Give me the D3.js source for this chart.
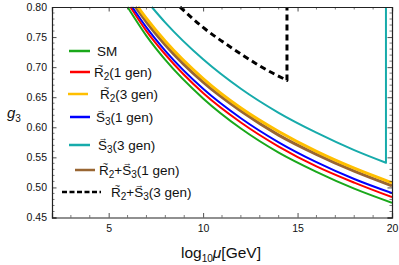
<!DOCTYPE html>
<html>
<head>
<meta charset="utf-8">
<script src="https://cdn.jsdelivr.net/npm/d3@7"></script>
<style>
  body { margin: 0; background: #fff; }
  svg { display: block; font-family: "Liberation Sans", Arial, sans-serif; }
</style>
</head>
<body>
<div id="chart"></div>
<script>
// values (log10 mu, g3)
var smT   = [6.00, 7, 8, 10, 12, 14, 16, 18, 20];
var smG   = [0.800, 0.752, 0.712, 0.648, 0.598, 0.558, 0.526, 0.498, 0.4745];
var r1T   = [6.15, 7, 8, 10, 12, 14, 16, 18, 20];
var r1G   = [0.800, 0.760, 0.721, 0.657, 0.608, 0.568, 0.535, 0.508, 0.4838];
var r3T   = [6.55, 7, 8, 10, 12, 14, 16, 18, 20];
var r3G   = [0.800, 0.781, 0.743, 0.681, 0.632, 0.593, 0.560, 0.532, 0.5078];
var s1T   = [6.25, 7, 8, 10, 12, 14, 16, 18, 20];
var s1G   = [0.800, 0.766, 0.727, 0.664, 0.615, 0.575, 0.542, 0.514, 0.4905];
var s3T   = [7.28, 8, 10, 12, 14, 16, 18, 19.68];
var s3G   = [0.800, 0.774, 0.713, 0.664, 0.624, 0.591, 0.562, 0.541];
var rs1T  = [6.42, 7, 8, 10, 12, 14, 16, 18, 20];
var rs1G  = [0.800, 0.775, 0.737, 0.675, 0.627, 0.587, 0.555, 0.527, 0.5027];
var rs3T  = [8.78, 10, 11, 12, 13, 14.44];
var rs3G  = [0.800, 0.766, 0.743, 0.722, 0.702, 0.678];
// curves that stop with a vertical wall up to the top of the frame
var s3Wall = 0.80;
var rs3Wall = 0.80;

var xTicks = [5, 10, 15, 20];
var yTicks = [0.45, 0.50, 0.55, 0.60, 0.65, 0.70, 0.75, 0.80];

var series = [
  { name: "SM",  t: smT,  g: smG,  color: "#1aa81a", w: 2 },
  { name: "R2_1", t: r1T,  g: r1G,  color: "#ff0000", w: 2 },
  { name: "R2_3", t: r3T,  g: r3G,  color: "#ffbf00", w: 3 },
  { name: "S3_1", t: s1T,  g: s1G,  color: "#0000ff", w: 2 },
  { name: "S3_3", t: s3T,  g: s3G,  color: "#17abab", w: 2, wall: s3Wall },
  { name: "RS_1", t: rs1T, g: rs1G, color: "#996633", w: 3 },
  { name: "RS_3", t: rs3T, g: rs3G, color: "#000000", w: 3, wall: rs3Wall, dash: "6,4" }
];
// drawing order: back to front as in the picture
var drawOrder = ["SM", "R2_1", "S3_1", "RS_1", "R2_3", "S3_3", "RS_3"];

var W = 399, H = 265;
var margin = { top: 7, right: 7, bottom: 47.5, left: 52 },
    width = W - margin.left - margin.right,
    height = H - margin.top - margin.bottom;

var svg = d3.select('#chart').append('svg')
    .attr('width', W)
    .attr('height', H);

var g = svg.append('g')
    .attr('transform', 'translate(' + margin.left + ',' + margin.top + ')');

var xscale = d3.scaleLinear().domain([2, 20]).range([0, width]);
var yscale = d3.scaleLinear().domain([0.45, 0.80]).range([height, 0]);

svg.append('defs').append('clipPath').attr('id', 'plotclip')
  .append('rect').attr('x', 0).attr('y', -1).attr('width', width).attr('height', height + 1);

// curves
var line = d3.line()
    .x(function(d) { return xscale(d[0]); })
    .y(function(d) { return yscale(d[1]); })
    .curve(d3.curveMonotoneX);

var curves = g.append('g').attr('clip-path', 'url(#plotclip)');
drawOrder.forEach(function(key) {
  var s = series.find(function(d) { return d.name === key; });
  var pts = s.t.map(function(t, i) { return [t, s.g[i]]; });
  var p = line(pts);
  if (s.wall !== undefined) {
    var last = pts[pts.length - 1];
    p += 'L' + xscale(last[0]) + ',' + yscale(s.wall);
  }
  curves.append('path')
    .attr('d', p)
    .attr('fill', 'none')
    .attr('stroke', s.color)
    .attr('stroke-width', s.w)
    .attr('stroke-dasharray', s.dash || null)
    .attr('stroke-linejoin', 'round');
});

// frame with inward ticks on all four sides
var frameColor = '#222';
var axisBottom = d3.axisBottom(xscale).tickValues(xTicks).tickSize(-4.5).tickPadding(7).tickFormat(d3.format('d'));
var axisLeft = d3.axisLeft(yscale).tickValues(yTicks).tickSize(-4.5).tickPadding(5).tickFormat(d3.format('.2f'));

var minorX = d3.range(3, 20, 1).filter(function(v) { return v % 5 !== 0; });
var minorY = d3.range(46, 80, 1).map(function(v) { return v / 100; }).filter(function(v) { return Math.round(v * 100) % 5 !== 0; });

function styleAxis(sel) {
  sel.selectAll('path').attr('stroke', frameColor).attr('stroke-width', 1.2);
  sel.selectAll('line').attr('stroke', frameColor).attr('stroke-width', 0.8);
  sel.selectAll('text').attr('fill', '#111').attr('font-size', '10.5px')
     .attr('font-family', '"Liberation Sans", Arial, sans-serif');
}

var gx = g.append('g').attr('transform', 'translate(0,' + height + ')').call(axisBottom);
styleAxis(gx);
var gy = g.append('g').call(axisLeft);
styleAxis(gy);
var gxTop = g.append('g').call(d3.axisTop(xscale).tickValues(xTicks).tickSize(-4.5).tickFormat(''));
styleAxis(gxTop);
var gyRight = g.append('g').attr('transform', 'translate(' + width + ',0)')
  .call(d3.axisRight(yscale).tickValues(yTicks).tickSize(-4.5).tickFormat(''));
styleAxis(gyRight);

// minor ticks
var minor = g.append('g').attr('stroke', frameColor).attr('stroke-width', 0.6);
minorX.forEach(function(v) {
  minor.append('line').attr('x1', xscale(v)).attr('x2', xscale(v)).attr('y1', height).attr('y2', height - 2.5);
  minor.append('line').attr('x1', xscale(v)).attr('x2', xscale(v)).attr('y1', 0).attr('y2', 2.5);
});
minorY.forEach(function(v) {
  minor.append('line').attr('x1', 0).attr('x2', 2.5).attr('y1', yscale(v)).attr('y2', yscale(v));
  minor.append('line').attr('x1', width).attr('x2', width - 2.5).attr('y1', yscale(v)).attr('y2', yscale(v));
});

// axis labels
var xl = svg.append('text')
  .attr('x', 221).attr('y', 258)
  .attr('text-anchor', 'middle')
  .attr('font-size', '15.5px')
  .attr('fill', '#111');
xl.append('tspan').text('log');
xl.append('tspan').attr('font-size', '10px').attr('dy', 4).text('10');
xl.append('tspan').attr('font-style', 'italic').attr('dy', -4).text('\u03bc');
xl.append('tspan').text('[GeV]');

var yl = svg.append('text')
  .attr('x', 7).attr('y', 118)
  .attr('font-size', '15px')
  .attr('fill', '#111');
yl.append('tspan').attr('font-style', 'italic').text('g');
yl.append('tspan').attr('font-size', '10px').attr('dy', 4).text('3');

// legend
var legendRows = [
  { key: "SM",   parts: [["SM", 0]],                                   y: 51,  x1: 69, x2: 90, tx: 97 },
  { key: "R2_1", parts: [["R", 0, "~"], ["2", 1], ["(1 gen)", 0]],     y: 72,  x1: 70, x2: 90, tx: 94 },
  { key: "R2_3", parts: [["R", 0, "~"], ["2", 1], ["(3 gen)", 0]],     y: 94,  x1: 68, x2: 88, tx: 100 },
  { key: "S3_1", parts: [["S", 0, "\u2192"], ["3", 1], ["(1 gen)", 0]], y: 117, x1: 70, x2: 90, tx: 96 },
  { key: "S3_3", parts: [["S", 0, "\u2192"], ["3", 1], ["(3 gen)", 0]], y: 145, x1: 69, x2: 90, tx: 98 },
  { key: "RS_1", parts: [["R", 0, "~"], ["2", 1], ["+", 0], ["S", 0, "\u2192"], ["3", 1], ["(1 gen)", 0]], y: 170, x1: 75, x2: 95, tx: 99 },
  { key: "RS_3", parts: [["R", 0, "~"], ["2", 1], ["+", 0], ["S", 0, "\u2192"], ["3", 1], ["(3 gen)", 0]], y: 192, x1: 62, x2: 101, tx: 111 }
];

var legend = svg.append('g');
legendRows.forEach(function(row) {
  var s = series.find(function(d) { return d.name === row.key; });
  legend.append('line')
    .attr('x1', row.x1).attr('x2', row.x2)
    .attr('y1', row.y).attr('y2', row.y)
    .attr('stroke', s.color)
    .attr('stroke-width', 2.5)
    .attr('stroke-dasharray', s.dash ? '5,2.5' : null);

  var t = legend.append('text')
    .attr('x', row.tx).attr('y', row.y + 5)
    .attr('font-size', '13.5px')
    .attr('fill', '#111');
  var sub = false;
  var accents = [];
  var idx = 0;
  row.parts.forEach(function(p) {
    var ts = t.append('tspan').text(p[0]);
    if (p[1] && !sub) { ts.attr('font-size', '10px').attr('dy', 3); sub = true; }
    else if (!p[1] && sub) { ts.attr('dy', -3); sub = false; }
    if (p[2]) accents.push({ i: idx, mark: p[2] });
    idx += p[0].length;
  });
  accents.forEach(function(a) {
    var box = t.node().getExtentOfChar(a.i);
    legend.append('text')
      .attr('x', box.x + box.width / 2 + (a.mark === '~' ? 1.5 : 0.5))
      .attr('y', box.y + (a.mark === '~' ? 3.5 : 2.5))
      .attr('text-anchor', 'middle')
      .attr('font-size', '9px')
      .attr('fill', '#111')
      .text(a.mark);
  });
});
</script>
</body>
</html>
